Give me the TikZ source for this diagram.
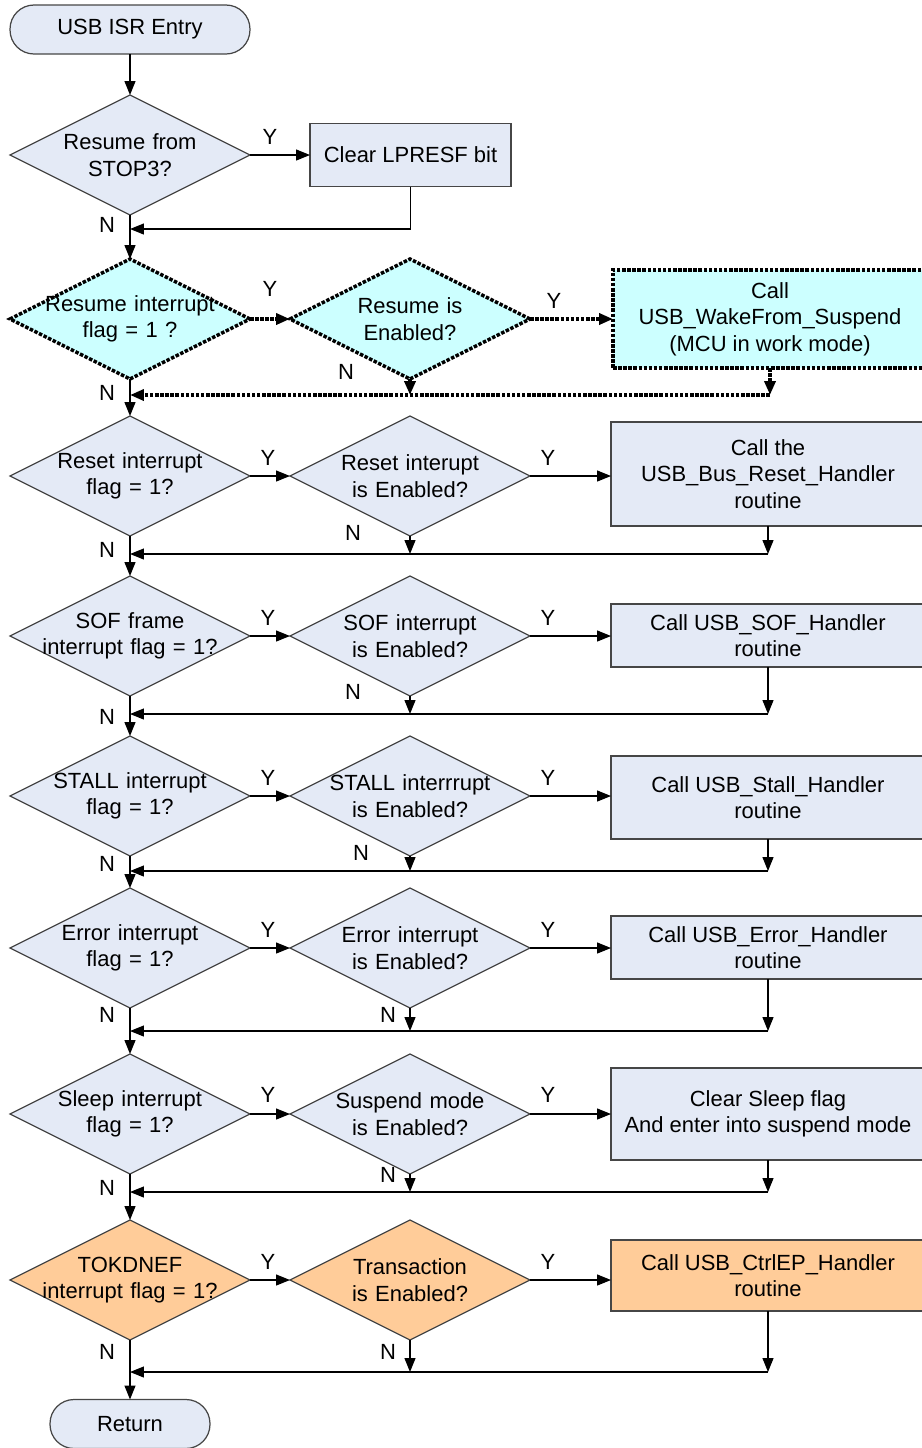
\documentclass[tikz,border=0pt]{standalone}
\usepackage{fontspec}
\setmainfont{Liberation Sans}
\usetikzlibrary{shapes.geometric,arrows.meta}
\definecolor{paleblue}{RGB}{228,234,246}
\definecolor{palecyan}{RGB}{204,255,255}
\definecolor{paleorange}{RGB}{255,204,153}
\definecolor{edgegray}{RGB}{70,70,70}
\tikzset{
  decision/.style={diamond,draw=edgegray,fill=paleblue,line width=0.7pt,minimum width=4.8cm,minimum height=2.4cm,
    inner xsep=-1.6cm,inner ysep=-0.3cm,text width=4.2cm,align=center,outer sep=0pt},
  process/.style={rectangle,draw=edgegray,fill=paleblue,line width=0.7pt,minimum width=6.28cm,align=center,outer sep=0pt},
  terminal/.style={rectangle,rounded corners=0.48cm,draw=edgegray,fill=paleblue,line width=0.7pt,minimum height=0.98cm,outer sep=0pt},
  hot/.style={fill=palecyan,draw=black,line width=2pt,dash pattern=on 2pt off 0.9pt},
  hotline/.style={line width=2pt,dash pattern=on 2pt off 0.9pt},
  orange/.style={fill=paleorange},
  arr/.style={line width=0.7pt,-{Triangle[length=2.8mm,width=2.2mm]}},
}

\begin{document}
\begin{tikzpicture}[x=0.02cm,y=-0.02cm,font=\fontsize{12.5}{15}\selectfont]
  \useasboundingbox (0,0) rectangle (922,1448);

  % entry and STOP3 check
  \node[terminal,minimum width=4.8cm] (entry) at (130,29.5) {USB ISR Entry};
  \node[decision] (stop3) at (130,155) {Resume from\\STOP3?};
  \node[process,minimum width=4.02cm,minimum height=1.26cm] (lpresf) at (410.5,155) {Clear LPRESF bit};
  \coordinate (m1) at (130,229);

  % resume
  \node[decision,hot] (rsmflag) at (130,319) {Resume interrupt\\flag = 1 ?};
  \node[decision,hot] (rsmen) at (410,319) {Resume is\\Enabled?};
  \node[process,hot,minimum height=1.96cm] (wake) at (770,319) {Call\\USB\_WakeFrom\_Suspend\\(MCU in work mode)};
  \coordinate (m2) at (130,395);

  % reset
  \node[decision] (rstflag) at (130,476) {Reset interrupt\\flag = 1?};
  \node[decision] (rsten) at (410,476) {Reset interupt\\is Enabled?};
  \node[process,minimum height=2.08cm] (rsthdl) at (768,474) {Call the\\USB\_Bus\_Reset\_Handler\\routine};
  \coordinate (m3) at (130,554);

  % SOF
  \node[decision] (sofflag) at (130,636) {SOF frame\\interrupt flag = 1?};
  \node[decision] (sofen) at (410,636) {SOF interrupt\\is Enabled?};
  \node[process,minimum height=1.26cm] (sofhdl) at (768,635.5) {Call USB\_SOF\_Handler\\routine};
  \coordinate (m4) at (130,714);

  % STALL
  \node[decision] (stlflag) at (130,796) {STALL interrupt\\flag = 1?};
  \node[decision] (stlen) at (410,796) {STALL interrrupt\\is Enabled?};
  \node[process,minimum height=1.66cm] (stlhdl) at (768,797.5) {Call USB\_Stall\_Handler\\routine};
  \coordinate (m5) at (130,871);

  % error
  \node[decision] (errflag) at (130,948) {Error interrupt\\flag = 1?};
  \node[decision] (erren) at (410,948) {Error interrupt\\is Enabled?};
  \node[process,minimum height=1.26cm] (errhdl) at (768,947.5) {Call USB\_Error\_Handler\\routine};
  \coordinate (m6) at (130,1031);

  % sleep
  \node[decision] (slpflag) at (130,1114) {Sleep interrupt\\flag = 1?};
  \node[decision] (slpen) at (410,1114) {Suspend mode\\is Enabled?};
  \node[process,minimum height=1.84cm] (slphdl) at (768,1114) {Clear Sleep flag\\And enter into suspend mode};
  \coordinate (m7) at (130,1192);

  % token done
  \node[decision,orange] (tokflag) at (130,1280) {TOKDNEF\\interrupt flag = 1?};
  \node[decision,orange] (token) at (410,1280) {Transaction\\is Enabled?};
  \node[process,orange,minimum height=1.42cm] (tokhdl) at (768,1275.5) {Call USB\_CtrlEP\_Handler\\routine};
  \coordinate (m8) at (130,1372);

  \node[terminal,minimum width=3.2cm] (ret) at (130,1424) {Return};

  % main column
  \draw[arr] (entry) -- (stop3);
  \draw[arr] (stop3) -- (rsmflag);
  \draw[arr] (rsmflag) -- (rstflag);
  \draw[arr] (rstflag) -- (sofflag);
  \draw[arr] (sofflag) -- (stlflag);
  \draw[arr] (stlflag) -- (errflag);
  \draw[arr] (errflag) -- (slpflag);
  \draw[arr] (slpflag) -- (tokflag);
  \draw[arr] (tokflag) -- (ret);

  % STOP3 branch
  \draw[arr] (stop3) -- (lpresf);
  \draw[arr] (lpresf.south) |- (m1);

  % resume branch
  \draw[arr,hotline] (rsmflag) -- (rsmen);
  \draw[arr,hotline] (rsmen) -- (wake);
  \draw[arr,hotline] (rsmen.south) -- (rsmen.south |- m2);
  \draw[arr,hotline] (wake.south) -- (wake.south |- m2);
  \draw[arr,hotline] (wake.south |- m2) -- (m2);

  % reset branch
  \draw[arr] (rstflag) -- (rsten);
  \draw[arr] (rsten.east) -- (rsten.east -| rsthdl.west);
  \draw[arr] (rsten.south) -- (rsten.south |- m3);
  \draw[arr] (rsthdl.south) -- (rsthdl.south |- m3);
  \draw[arr] (rsthdl.south |- m3) -- (m3);

  % SOF branch
  \draw[arr] (sofflag) -- (sofen);
  \draw[arr] (sofen.east) -- (sofen.east -| sofhdl.west);
  \draw[arr] (sofen.south) -- (sofen.south |- m4);
  \draw[arr] (sofhdl.south) -- (sofhdl.south |- m4);
  \draw[arr] (sofhdl.south |- m4) -- (m4);

  % STALL branch
  \draw[arr] (stlflag) -- (stlen);
  \draw[arr] (stlen.east) -- (stlen.east -| stlhdl.west);
  \draw[arr] (stlen.south) -- (stlen.south |- m5);
  \draw[arr] (stlhdl.south) -- (stlhdl.south |- m5);
  \draw[arr] (stlhdl.south |- m5) -- (m5);

  % error branch
  \draw[arr] (errflag) -- (erren);
  \draw[arr] (erren.east) -- (erren.east -| errhdl.west);
  \draw[arr] (erren.south) -- (erren.south |- m6);
  \draw[arr] (errhdl.south) -- (errhdl.south |- m6);
  \draw[arr] (errhdl.south |- m6) -- (m6);

  % sleep branch
  \draw[arr] (slpflag) -- (slpen);
  \draw[arr] (slpen.east) -- (slpen.east -| slphdl.west);
  \draw[arr] (slpen.south) -- (slpen.south |- m7);
  \draw[arr] (slphdl.south) -- (slphdl.south |- m7);
  \draw[arr] (slphdl.south |- m7) -- (m7);

  % token branch
  \draw[arr] (tokflag) -- (token);
  \draw[arr] (token.east) -- (token.east -| tokhdl.west);
  \draw[arr] (token.south) -- (token.south |- m8);
  \draw[arr] (tokhdl.south) -- (tokhdl.south |- m8);
  \draw[arr] (tokhdl.south |- m8) -- (m8);

  % Y / N labels
  \node (y1) at (270,137) {Y};
  \node (n1) at (107,225) {N};
  \node (y2) at (270,289) {Y};
  \node (y3) at (554,301) {Y};
  \node (n2) at (346,372) {N};
  \node (n3) at (107,393) {N};
  \node (y4) at (268,458) {Y};
  \node (y5) at (548,458) {Y};
  \node (n4) at (353,533) {N};
  \node (n5) at (107,550) {N};
  \node (y6) at (268,618) {Y};
  \node (y7) at (548,618) {Y};
  \node (n6) at (353,692) {N};
  \node (n7) at (107,717) {N};
  \node (y8) at (268,778) {Y};
  \node (y9) at (548,778) {Y};
  \node (n8) at (361,853) {N};
  \node (n9) at (107,864) {N};
  \node (y10) at (268,930) {Y};
  \node (y11) at (548,930) {Y};
  \node (n10) at (388,1015) {N};
  \node (n11) at (107,1015) {N};
  \node (y12) at (268,1095) {Y};
  \node (y13) at (548,1095) {Y};
  \node (n12) at (388,1175) {N};
  \node (n13) at (107,1188) {N};
  \node (y14) at (268,1262) {Y};
  \node (y15) at (548,1262) {Y};
  \node (n14) at (388,1352) {N};
  \node (n15) at (107,1352) {N};
\end{tikzpicture}
\end{document}
